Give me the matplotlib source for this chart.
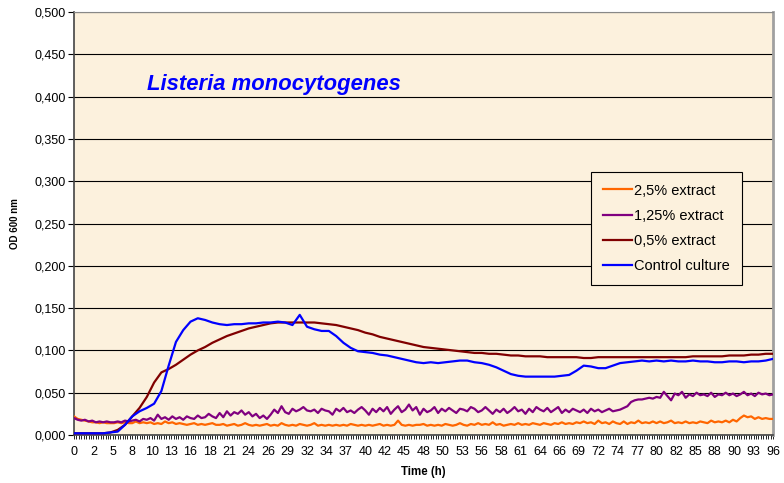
import numpy as np
import matplotlib.pyplot as plt
from matplotlib.ticker import FuncFormatter, MultipleLocator

plt.rcParams.update({
    'font.family': ['Liberation Sans', 'DejaVu Sans'],
    'font.size': 9,
})

# --- Data (OD 600 nm) ---
# smooth curves: hourly readings 0..96 h
hours = np.arange(0, 97)
control = [0.002, 0.002, 0.002, 0.002, 0.002, 0.003, 0.004, 0.012, 0.022, 0.028,
           0.032, 0.037, 0.052, 0.082, 0.110, 0.124, 0.134, 0.138, 0.136, 0.133,
           0.131, 0.130, 0.131, 0.131, 0.132, 0.132, 0.133, 0.133, 0.134, 0.133,
           0.130, 0.142, 0.128, 0.125, 0.123, 0.123, 0.117, 0.109, 0.103, 0.099,
           0.098, 0.097, 0.095, 0.094, 0.092, 0.090, 0.088, 0.086, 0.085, 0.086,
           0.085, 0.086, 0.087, 0.088, 0.088, 0.086, 0.085, 0.083, 0.080, 0.076,
           0.072, 0.070, 0.069, 0.069, 0.069, 0.069, 0.069, 0.070, 0.071, 0.076,
           0.082, 0.081, 0.079, 0.079, 0.082, 0.085, 0.086, 0.087, 0.088, 0.087,
           0.088, 0.087, 0.088, 0.087, 0.087, 0.088, 0.087, 0.087, 0.086, 0.086,
           0.087, 0.087, 0.086, 0.087, 0.087, 0.088, 0.090]
ext_05 = [0.002, 0.002, 0.002, 0.002, 0.002, 0.003, 0.006, 0.012, 0.022, 0.032,
          0.045, 0.062, 0.074, 0.078, 0.083, 0.089, 0.095, 0.100, 0.104, 0.109,
          0.113, 0.117, 0.120, 0.123, 0.126, 0.128, 0.130, 0.132, 0.133, 0.133,
          0.133, 0.133, 0.133, 0.133, 0.132, 0.131, 0.130, 0.128, 0.126, 0.124,
          0.121, 0.119, 0.116, 0.114, 0.112, 0.110, 0.108, 0.106, 0.104, 0.103,
          0.102, 0.101, 0.100, 0.099, 0.098, 0.097, 0.097, 0.096, 0.096, 0.095,
          0.094, 0.094, 0.093, 0.093, 0.093, 0.092, 0.092, 0.092, 0.092, 0.092,
          0.091, 0.091, 0.092, 0.092, 0.092, 0.092, 0.092, 0.092, 0.092, 0.092,
          0.092, 0.092, 0.092, 0.092, 0.092, 0.093, 0.093, 0.093, 0.093, 0.093,
          0.094, 0.094, 0.094, 0.095, 0.095, 0.096, 0.096]

# noisy curves: half-hourly readings 0..96 h
half_hours = np.arange(0, 193) / 2
ext_125 = [0.020, 0.018, 0.017, 0.018, 0.016, 0.017, 0.015, 0.016, 0.015, 0.016,
           0.015, 0.015, 0.016, 0.015, 0.017, 0.016, 0.017, 0.018, 0.016, 0.019,
           0.018, 0.020, 0.017, 0.024, 0.019, 0.021, 0.018, 0.022, 0.019, 0.021,
           0.018, 0.022, 0.020, 0.019, 0.023, 0.020, 0.021, 0.025, 0.022, 0.020,
           0.026, 0.021, 0.028, 0.023, 0.027, 0.025, 0.029, 0.024, 0.027, 0.022,
           0.025, 0.020, 0.023, 0.019, 0.024, 0.030, 0.026, 0.034, 0.027, 0.025,
           0.031, 0.028, 0.030, 0.033, 0.029, 0.028, 0.030, 0.026, 0.031, 0.029,
           0.028, 0.024, 0.031, 0.028, 0.032, 0.027, 0.029, 0.026, 0.030, 0.033,
           0.029, 0.024, 0.031, 0.027, 0.032, 0.028, 0.033, 0.025, 0.030, 0.034,
           0.027, 0.030, 0.036, 0.029, 0.033, 0.024, 0.031, 0.027, 0.029, 0.033,
           0.026, 0.031, 0.028, 0.032, 0.029, 0.026, 0.031, 0.030, 0.028, 0.033,
           0.031, 0.027, 0.029, 0.033, 0.029, 0.025, 0.030, 0.027, 0.031, 0.026,
           0.029, 0.033, 0.028, 0.030, 0.025, 0.031, 0.027, 0.033, 0.030, 0.028,
           0.032, 0.027, 0.030, 0.033, 0.026, 0.030, 0.027, 0.031, 0.029, 0.027,
           0.030, 0.026, 0.031, 0.028, 0.030, 0.027, 0.029, 0.031, 0.028, 0.029,
           0.030, 0.032, 0.034, 0.039, 0.041, 0.042, 0.042, 0.043, 0.044, 0.043,
           0.045, 0.044, 0.051, 0.046, 0.041, 0.049, 0.047, 0.051, 0.044, 0.048,
           0.046, 0.050, 0.047, 0.048, 0.046, 0.050, 0.045, 0.048, 0.047, 0.050,
           0.047, 0.049, 0.046, 0.048, 0.051, 0.047, 0.049, 0.046, 0.050, 0.048,
           0.049, 0.047, 0.048]
ext_25 = [0.022, 0.019, 0.018, 0.017, 0.016, 0.015, 0.015, 0.014, 0.015, 0.014,
          0.014, 0.014, 0.015, 0.014, 0.015, 0.014, 0.014, 0.016, 0.014, 0.015,
          0.014, 0.015, 0.013, 0.014, 0.013, 0.016, 0.014, 0.015, 0.013, 0.014,
          0.013, 0.012, 0.013, 0.014, 0.012, 0.013, 0.012, 0.013, 0.014, 0.012,
          0.012, 0.013, 0.011, 0.012, 0.013, 0.011, 0.012, 0.014, 0.012, 0.011,
          0.012, 0.011, 0.012, 0.013, 0.011, 0.012, 0.011, 0.014, 0.012, 0.011,
          0.012, 0.011, 0.013, 0.012, 0.011, 0.012, 0.014, 0.011, 0.012, 0.011,
          0.012, 0.011, 0.012, 0.011, 0.012, 0.011, 0.013, 0.012, 0.011, 0.012,
          0.011, 0.012, 0.011, 0.012, 0.013, 0.011, 0.012, 0.011, 0.012, 0.017,
          0.012, 0.011, 0.012, 0.011, 0.012, 0.012, 0.013, 0.011, 0.012, 0.011,
          0.012, 0.011, 0.013, 0.012, 0.011, 0.012, 0.014, 0.012, 0.011, 0.013,
          0.012, 0.014, 0.012, 0.013, 0.012, 0.015, 0.012, 0.013, 0.011, 0.012,
          0.013, 0.012, 0.014, 0.012, 0.013, 0.012, 0.014, 0.013, 0.012, 0.014,
          0.013, 0.012, 0.014, 0.013, 0.015, 0.013, 0.014, 0.013, 0.015, 0.014,
          0.016, 0.014, 0.015, 0.013, 0.017, 0.014, 0.015, 0.013, 0.016, 0.014,
          0.013, 0.016, 0.013, 0.015, 0.014, 0.017, 0.014, 0.015, 0.014, 0.016,
          0.014, 0.016, 0.014, 0.015, 0.017, 0.014, 0.015, 0.014, 0.016, 0.014,
          0.015, 0.014, 0.016, 0.015, 0.014, 0.017, 0.015, 0.016, 0.015, 0.017,
          0.015, 0.018, 0.016, 0.020, 0.023, 0.021, 0.022, 0.019, 0.021, 0.019,
          0.020, 0.019, 0.019]

# x tick labels (Excel shows every 8th 20-min reading, truncated to whole hours)
tick_labels = [0, 2, 5, 8, 10, 13, 16, 18, 21, 24, 26, 29, 32, 34, 37, 40, 42, 45,
               48, 50, 53, 56, 58, 61, 64, 66, 69, 72, 74, 77, 80, 82, 85, 88, 90, 93, 96]

fig = plt.figure(figsize=(7.84, 4.83), dpi=100)
ax = fig.add_axes([0.0944, 0.0994, 0.8916, 0.8756])
ax.set_facecolor('#fcf1dd')

ax.plot(half_hours, ext_25, color='#ff6600', lw=1.6, label='2,5% extract', zorder=3)
ax.plot(half_hours, ext_125, color='#800080', lw=1.6, label='1,25% extract', zorder=3)
ax.plot(hours, ext_05, color='#800000', lw=1.6, label='0,5% extract', zorder=3)
ax.plot(hours, control, color='#0000ff', lw=1.6, label='Control culture', zorder=4)

ax.set_xlim(0, 96)
ax.set_ylim(0, 0.5)
ax.yaxis.set_major_locator(MultipleLocator(0.05))
ax.yaxis.set_major_formatter(FuncFormatter(lambda v, p: f'{v:.3f}'.replace('.', ',')))
ax.grid(axis='y', color='black', lw=0.8)
ax.set_axisbelow(True)

tick_pos = np.arange(len(tick_labels)) * 8 / 3
ax.set_xticks(tick_pos)
ax.set_xticklabels([str(v) for v in tick_labels])
ax.set_xticks(np.arange(0, 289) / 3, minor=True)
ax.tick_params(axis='x', which='both', length=3, width=0.6, direction='out', pad=5)
ax.tick_params(axis='y', length=4, width=0.8, direction='out', pad=2)

for side in ['left', 'bottom']:
    ax.spines[side].set_color('#444444')
    ax.spines[side].set_linewidth(1.2)
ax.spines['top'].set_color('#888888')
ax.spines['right'].set_color('#a0a0a0')
ax.spines['right'].set_linewidth(2)

ax.set_ylabel('OD 600 nm', fontweight='bold', fontsize=7, labelpad=10)
ax.set_xlabel('Time (h)', fontweight='bold', fontsize=8.3, labelpad=6)

ax.text(0.105, 0.816, 'Listeria monocytogenes', transform=ax.transAxes,
        color='#0000ff', fontsize=15.8, fontweight='bold', fontstyle='italic')

leg = ax.legend(loc='upper left', bbox_to_anchor=(0.74, 0.622), frameon=True,
                fancybox=False, edgecolor='black', facecolor='#fcf1dd', framealpha=1,
                fontsize=10.5, handlelength=2.0, handletextpad=0.15, labelspacing=0.76,
                borderpad=0.8, borderaxespad=0)
leg.get_frame().set_linewidth(0.8)

fig.savefig('out.png', dpi=100)
